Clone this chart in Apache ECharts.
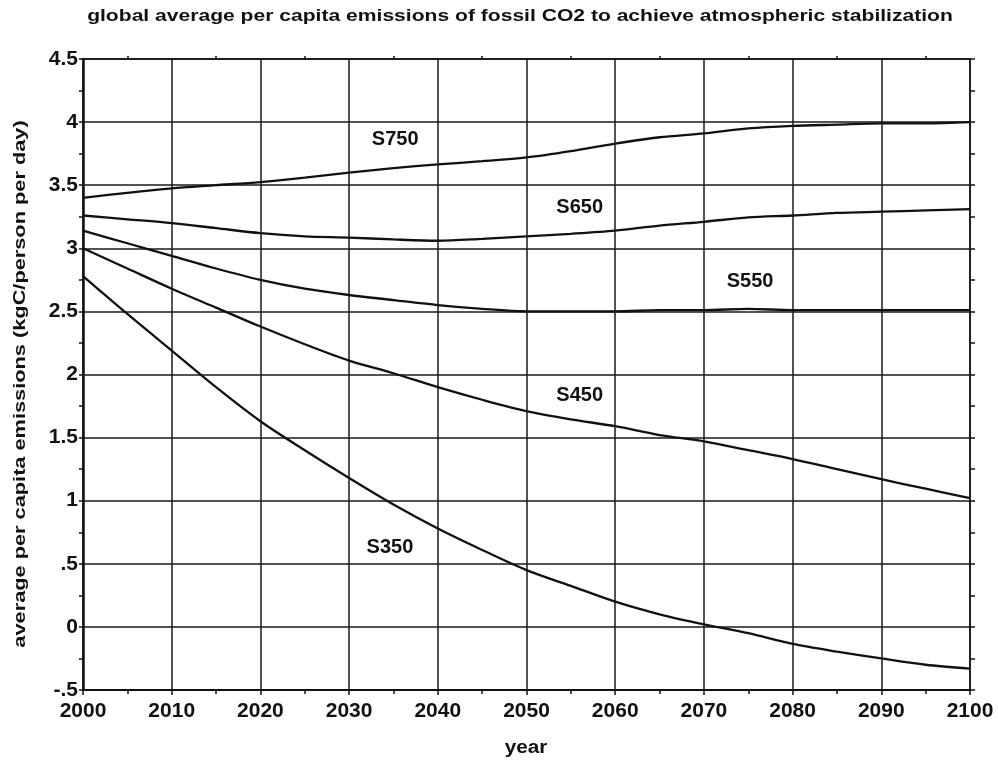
<!DOCTYPE html>
<html>
<head>
<meta charset="utf-8">
<script src="https://cdn.jsdelivr.net/npm/echarts@6/dist/echarts.min.js"></script>
<style>html,body{margin:0;padding:0;background:#fff}#c{width:998px;height:761px}</style>
</head>
<body>
<div id="c"></div>
<script>
var years = [2000,2005,2010,2015,2020,2025,2030,2035,2040,2045,2050,2055,2060,2065,2070,2075,2080,2085,2090,2095,2100];
var S750 = [3.40,3.44,3.475,3.50,3.525,3.56,3.60,3.635,3.665,3.69,3.72,3.77,3.83,3.88,3.91,3.95,3.97,3.98,3.99,3.99,4.00];
var S650 = [3.26,3.23,3.20,3.16,3.12,3.095,3.085,3.07,3.06,3.075,3.095,3.115,3.14,3.18,3.21,3.245,3.26,3.28,3.29,3.30,3.31];
var S550 = [3.14,3.04,2.94,2.84,2.75,2.68,2.63,2.59,2.55,2.52,2.50,2.50,2.50,2.51,2.51,2.52,2.51,2.51,2.51,2.51,2.51];
var S450 = [3.00,2.84,2.68,2.53,2.38,2.24,2.11,2.01,1.90,1.80,1.71,1.645,1.59,1.52,1.47,1.40,1.33,1.25,1.17,1.095,1.02];
var S350 = [2.78,2.48,2.19,1.90,1.63,1.40,1.18,0.97,0.78,0.61,0.45,0.325,0.20,0.10,0.02,-0.05,-0.135,-0.196,-0.25,-0.30,-0.33];
var seriesNames = ['S750','S650','S550','S450','S350'];
var labelYears = [2035.2,2056,2075.2,2056,2034.6];
var labelValues = [3.86,3.32,2.74,1.83,0.63];
var xTicks = [2000,2010,2020,2030,2040,2050,2060,2070,2080,2090,2100];
var yTicks = ['-.5','0','.5','1','1.5','2','2.5','3','3.5','4','4.5'];
var titleText = 'global average per capita emissions of fossil CO2 to achieve atmospheric stabilization';
var xName = 'year';
var yName = 'average per capita emissions (kgC/person per day)';

var FONT = '"Liberation Sans", Arial, sans-serif';
var allSeries = [S750,S650,S550,S450,S350];
var chart = echarts.init(document.getElementById('c'), null, {renderer:'canvas'});
function pairs(arr){ return years.map(function(y,i){ return [y, arr[i]]; }); }
function yFmt(v){
  var s = String(Math.round(v*100)/100);
  return s.replace(/^(-?)0\./, '$1.');
}
var series = allSeries.map(function(arr, i){
  return {
    name: seriesNames[i], type:'line', data: pairs(arr), smooth: 0.3, symbol:'none',
    lineStyle:{color:'#111', width:2.3}, z: 5,
    markPoint: {
      symbol:'circle', symbolSize: 0,
      label:{show:true, formatter: seriesNames[i], color:'#111', fontFamily: FONT, fontWeight:'bold', fontSize:20, position:'inside'},
      data:[{coord:[labelYears[i], labelValues[i]]}]
    }
  };
});
var option = {
  animation:false,
  backgroundColor:'#fff',
  graphic:[
    {type:'text', x:520, y:8, scaleX:1.24, z:10,
     style:{text:titleText, font:'bold 17px ' + FONT, fill:'#111', align:'center', verticalAlign:'top', textAlign:'center', textVerticalAlign:'top'}},
    {type:'text', x:20, y:384, rotation:Math.PI/2, scaleX:1.28, z:10,
     style:{text:yName, font:'bold 17px ' + FONT, fill:'#111', align:'center', verticalAlign:'middle', textAlign:'center', textVerticalAlign:'middle'}},
    {type:'text', x:526, y:748, scaleX:1.15, z:10,
     style:{text:xName, font:'bold 18px ' + FONT, fill:'#111', align:'center', verticalAlign:'middle', textAlign:'center', textVerticalAlign:'middle'}}
  ],
  grid:{left:83, right:28, top:59, bottom:71, containLabel:false},
  xAxis:[{
    type:'value', min:2000, max:2100, interval:10, position:'bottom',
    axisLine:{show:true, onZero:false, lineStyle:{color:'#111', width:2}},
    axisTick:{show:true, length:5, lineStyle:{color:'#111', width:1.5}},
    minorTick:{show:true, splitNumber:2, length:4, lineStyle:{color:'#111', width:1.5}},
    splitLine:{show:true, lineStyle:{color:'#1a1a1a', width:1.5}},
    axisLabel:{fontFamily:FONT, fontWeight:'bold', fontSize:21, color:'#111', margin:11,
      formatter:function(v){ return xTicks.indexOf(v)>=0 ? String(v) : ''; }}
  },{
    type:'value', min:2000, max:2100, interval:10, position:'top',
    axisLine:{show:true, onZero:false, lineStyle:{color:'#111', width:1.5}},
    axisTick:{show:false},
    minorTick:{show:true, splitNumber:2, length:3, lineStyle:{color:'#111', width:1.5}},
    splitLine:{show:false}, axisLabel:{show:false}
  }],
  yAxis:[{
    type:'value', min:-0.5, max:4.5, interval:0.5, position:'left',
    axisLine:{show:true, onZero:false, lineStyle:{color:'#111', width:2.5}},
    axisTick:{show:true, length:4, lineStyle:{color:'#111', width:1.5}},
    minorTick:{show:true, splitNumber:2, length:4, lineStyle:{color:'#111', width:1.5}},
    splitLine:{show:true, lineStyle:{color:'#1a1a1a', width:1.5}},
    axisLabel:{fontFamily:FONT, fontWeight:'bold', fontSize:21, color:'#111', margin:5,
      formatter:function(v){ var s=yFmt(v); return yTicks.indexOf(s)>=0 ? s : ''; }}
  },{
    type:'value', min:-0.5, max:4.5, interval:0.5, position:'right',
    axisLine:{show:true, onZero:false, lineStyle:{color:'#111', width:1.5}},
    axisTick:{show:true, length:5, lineStyle:{color:'#111', width:1.5}},
    minorTick:{show:true, splitNumber:2, length:5, lineStyle:{color:'#111', width:1.5}},
    splitLine:{show:false}, axisLabel:{show:false}
  }],
  series: series
};
chart.setOption(option);
</script>
</body>
</html>
